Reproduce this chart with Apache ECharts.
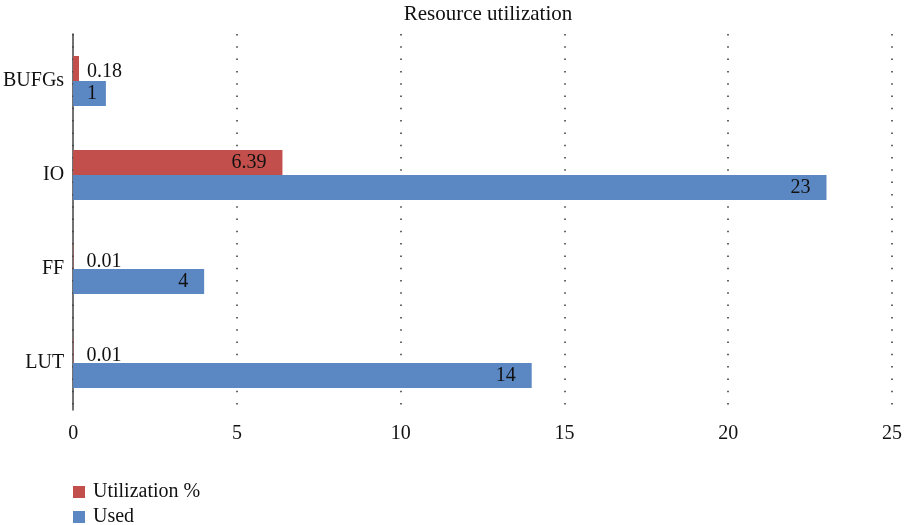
<!DOCTYPE html>
<html>
<head>
<meta charset="utf-8">
<script src="https://cdn.jsdelivr.net/npm/echarts@6/dist/echarts.min.js"></script>
<style>
html,body{margin:0;padding:0;background:#fff;}
#chart{width:905px;height:525px;}
</style>
</head>
<body>
<div id="chart"></div>
<script>
const categories = ['LUT', 'FF', 'IO', 'BUFGs'];
const utilization = [0.01, 0.01, 6.39, 0.18];
const used = [14, 4, 23, 1];
const xTicks = [0, 5, 10, 15, 20, 25];

const FONT = '"Liberation Serif", "DejaVu Serif", serif';
const RED = '#c24f4b';
const BLUE = '#5b87c3';
const FS = 20;

const chart = echarts.init(document.getElementById('chart'));

// Small bars get their value printed just past the bar end; wide ones inside.
const utilData = utilization.map(v => ({
  value: v,
  label: v > 2
    ? { position: 'insideRight', distance: 16 }
    : { position: 'right', distance: v < 0.1 ? 13 : 8, offset: [0, v < 0.1 ? 5 : 3] }
}));

// Very short bars keep their label close to the bar end.
const usedData = used.map(v => ({
  value: v,
  label: { position: 'insideRight', distance: v < 2 ? 9 : 16 }
}));

// One legend row per series, stacked at the bottom left.
const legendRow = (name, top) => ({
  orient: 'vertical',
  left: 73,
  top: top,
  padding: 0,
  itemWidth: 12,
  itemHeight: 12,
  icon: 'rect',
  textStyle: { fontFamily: FONT, fontSize: FS, color: '#111', padding: [0, 0, 0, 3] },
  data: [name]
});

chart.setOption({
  animation: false,
  title: {
    text: 'Resource utilization',
    left: 483,
    textAlign: 'center',
    top: -1,
    textStyle: { fontFamily: FONT, fontSize: 21, fontWeight: 'normal', color: '#111' }
  },
  legend: [legendRow('Utilization %', 482), legendRow('Used', 507)],
  grid: { left: 73, right: 12, top: 34, bottom: 115, containLabel: false },
  xAxis: {
    type: 'value',
    min: xTicks[0],
    max: xTicks[xTicks.length - 1],
    interval: 5,
    axisLine: { show: false },
    axisTick: { show: false },
    axisLabel: { fontFamily: FONT, fontSize: FS, color: '#111', margin: 14 },
    splitLine: {
      show: true,
      lineStyle: { type: [1.5, 10.8], color: '#333', width: 1.5 }
    }
  },
  yAxis: {
    type: 'category',
    data: categories,
    axisLine: { show: true, lineStyle: { color: '#444', width: 1.5 } },
    axisTick: { show: false },
    axisLabel: { fontFamily: FONT, fontSize: FS, color: '#111', margin: 9 }
  },
  series: [
    {
      name: 'Utilization %',
      type: 'bar',
      data: utilData,
      barWidth: 25,
      barGap: '0%',
      itemStyle: { color: RED },
      label: { show: true, fontFamily: FONT, fontSize: FS, color: '#111' }
    },
    {
      name: 'Used',
      type: 'bar',
      data: usedData,
      barWidth: 25,
      barGap: '0%',
      itemStyle: { color: BLUE },
      label: { show: true, fontFamily: FONT, fontSize: FS, color: '#111' }
    }
  ]
});
</script>
</body>
</html>
